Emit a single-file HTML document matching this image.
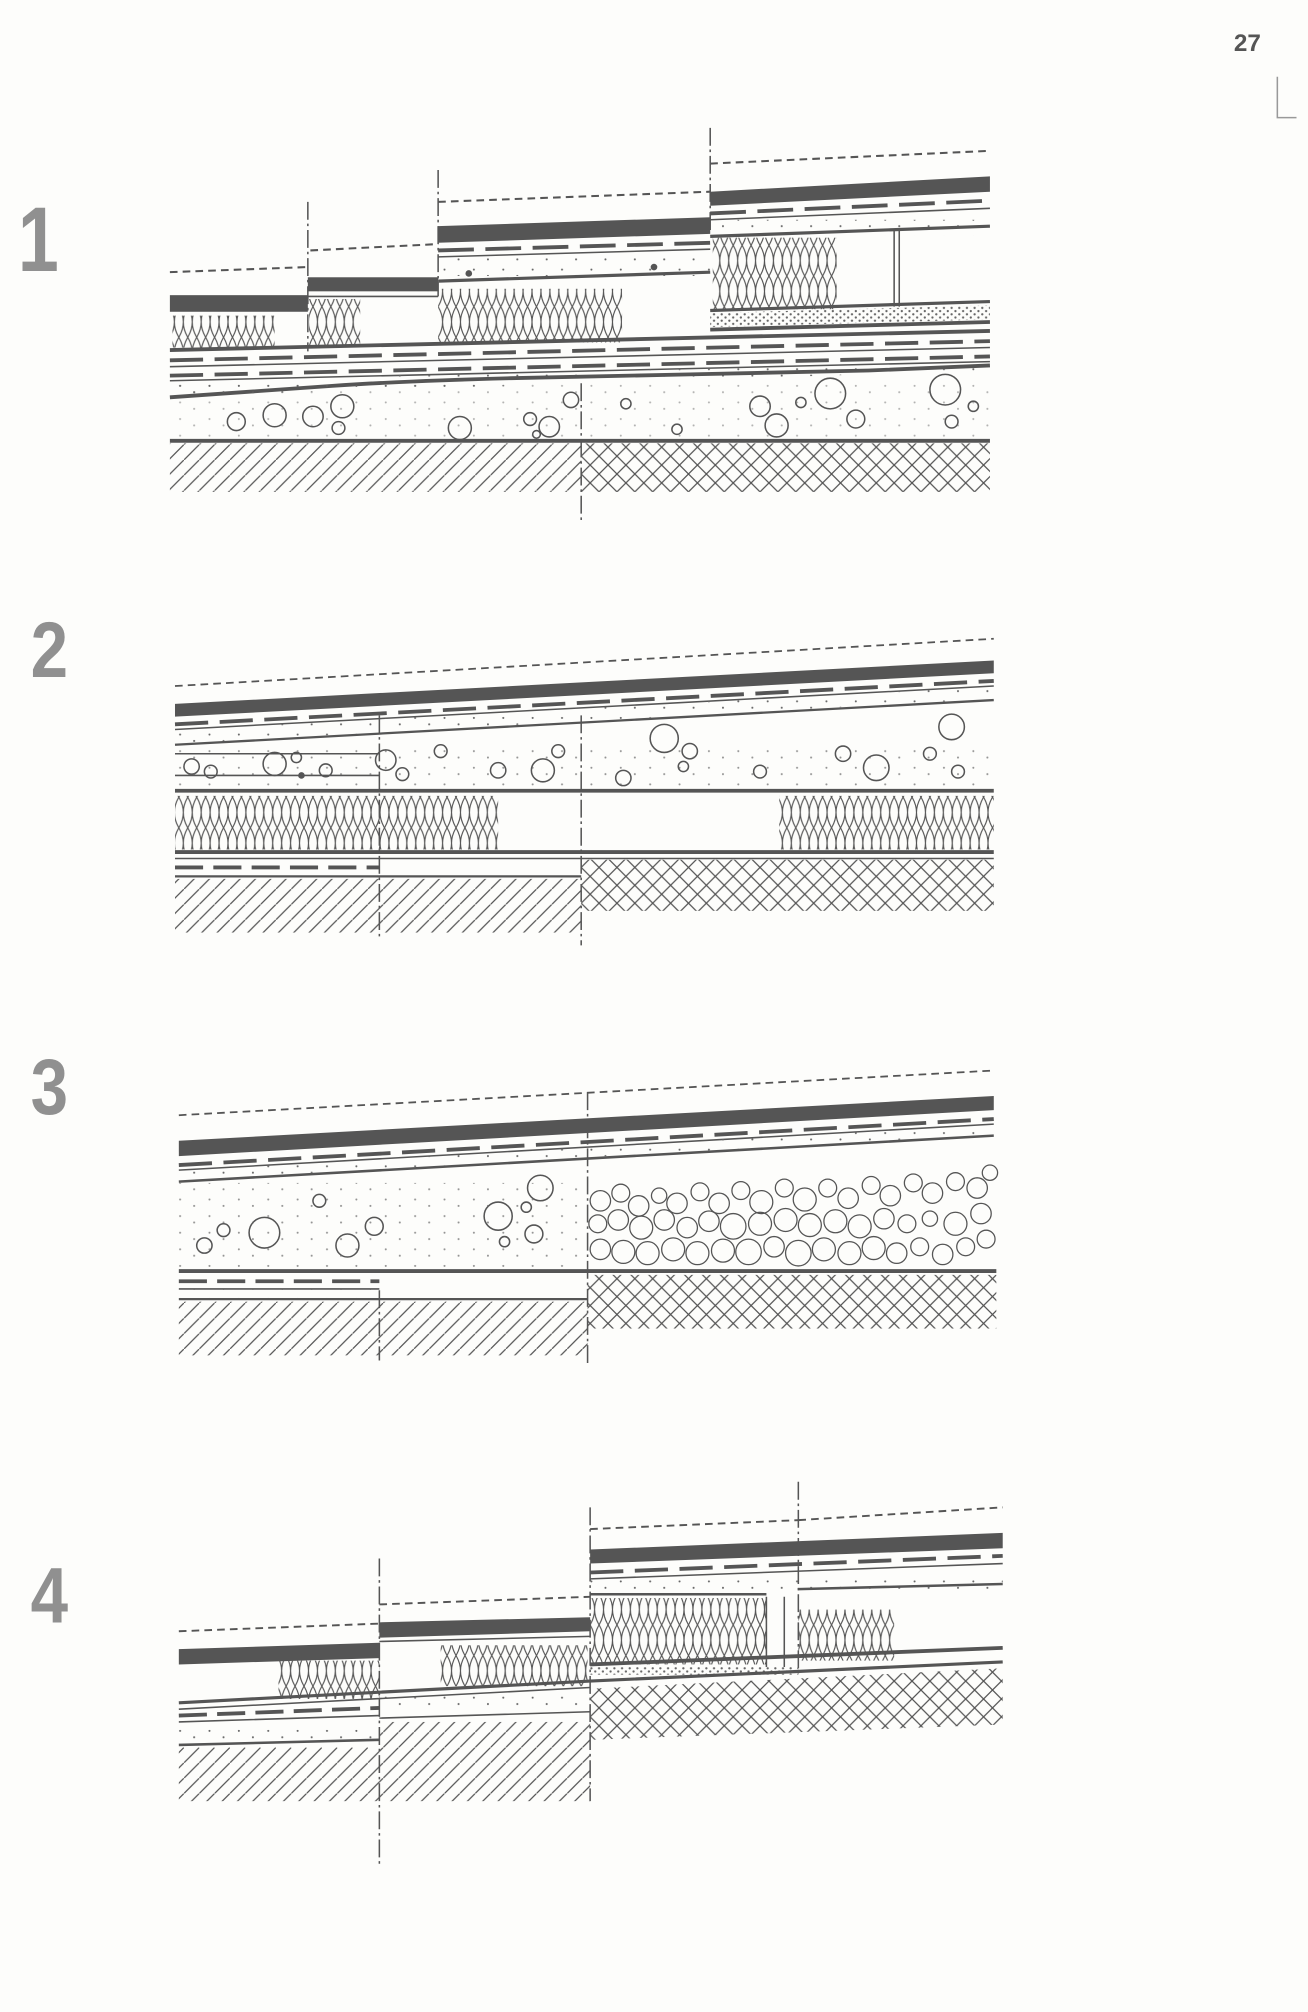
<!DOCTYPE html>
<html><head><meta charset="utf-8"><style>
html,body{margin:0;padding:0;background:#fdfdfb;}
svg{display:block;}
</style></head><body>
<svg width="1308" height="2012" viewBox="0 0 1024 1575" xmlns="http://www.w3.org/2000/svg">
<defs>
<pattern id="diag" width="12" height="12" patternUnits="userSpaceOnUse"><path d="M-1,13 L13,-1" stroke="#555" stroke-width="1"/></pattern>
<pattern id="cross" width="14" height="14" patternUnits="userSpaceOnUse"><path d="M0,14 L14,0 M0,0 L14,14" stroke="#555" stroke-width="1"/></pattern>
<pattern id="zig" width="7" height="24" patternUnits="userSpaceOnUse"><path d="M0,0 Q7,12 0,24 M7,0 Q0,12 7,24" stroke="#555" stroke-width="0.9" fill="none"/></pattern>
<pattern id="sand" width="23" height="13" patternUnits="userSpaceOnUse"><circle cx="3" cy="3" r="0.8" fill="#666"/><circle cx="14" cy="8" r="0.8" fill="#666"/></pattern>
<pattern id="dsand" width="6" height="5" patternUnits="userSpaceOnUse"><circle cx="1" cy="1" r="0.9" fill="#666"/><circle cx="4" cy="3.5" r="0.9" fill="#666"/></pattern>
</defs>
<g fill="none" stroke="#555" stroke-width="1.2">

<text x="966" y="40" font-family="Liberation Sans, sans-serif" font-size="19" font-weight="bold" fill="#555" stroke="none">27</text>
<path d="M1000,60 L1000,92 L1015,92" stroke="#999"/>

<g font-family="Liberation Sans, sans-serif" font-weight="bold" fill="#909090" stroke="none">
<text x="14" y="212" font-size="72" transform="translate(14 0) scale(0.8 1) translate(-14 0)">1</text>
<text x="24" y="530" font-size="62" transform="translate(24 0) scale(0.85 1) translate(-24 0)">2</text>
<text x="24" y="872" font-size="62" transform="translate(24 0) scale(0.85 1) translate(-24 0)">3</text>
<text x="24" y="1270" font-size="62" transform="translate(24 0) scale(0.85 1) translate(-24 0)">4</text>
</g>

<!-- ===== PANEL 1 ===== -->
<g stroke-dasharray="14 3 2 3">
<path d="M241,158 V275 M343,133 V232 M556,100 V180 M455,300 V408"/>
</g>
<g stroke-dasharray="6 4" stroke-width="1.6">
<path d="M133,213 L241,209 M243,196 L343,191 M343,158 L556,150 M556,128 L775,118"/>
</g>
<rect x="133" y="231" width="108" height="13" fill="#555" stroke="none"/>
<rect x="135" y="247" width="80" height="25" fill="url(#zig)" stroke="none"/>
<rect x="241" y="217" width="102" height="11" fill="#555" stroke="none"/>
<path d="M241,232 H343"/>
<rect x="242" y="234" width="40" height="36" fill="url(#zig)" stroke="none"/>
<polygon points="343,177 556,170 556,183 343,190" fill="#555" stroke="none"/>
<path d="M343,196 L556,190" stroke-width="3" stroke-dasharray="28 9"/>
<path d="M343,201 L556,195"/>
<rect x="343" y="202" width="213" height="14" fill="url(#sand)" stroke="none"/>
<circle cx="367" cy="214" r="2" fill="#555"/><circle cx="512" cy="209" r="2" fill="#555"/>
<path d="M343,220 L556,213" stroke-width="2.5"/>
<rect x="343" y="226" width="144" height="42" fill="url(#zig)" stroke="none"/>
<polygon points="556,150 775,138 775,150 556,161" fill="#555" stroke="none"/>
<path d="M556,167 L775,157" stroke-width="3" stroke-dasharray="28 9"/>
<path d="M556,172 L775,163"/>
<rect x="556" y="172" width="219" height="12" fill="url(#sand)" stroke="none"/>
<path d="M556,185 L775,177" stroke-width="2.5"/>
<rect x="558" y="186" width="97" height="56" fill="url(#zig)" stroke="none"/>
<path d="M700,180 V240 M704,180 V240"/>
<path d="M556,243 L775,236" stroke-width="2.5"/>
<polygon points="556,245 775,239 775,250 556,256" fill="url(#dsand)" stroke="none"/>
<path d="M556,258 L775,252" stroke-width="3"/>
<path d="M133,274 L775,259" stroke-width="3"/>
<path d="M133,282 L775,267" stroke-width="3" stroke-dasharray="26 9"/>
<path d="M133,287 L775,272"/>
<path d="M133,294 L775,279" stroke-width="3" stroke-dasharray="26 9"/>
<path d="M133,298 L775,283"/>
<polygon points="133,298 775,283 775,290 133,310" fill="url(#sand)" stroke="none"/>
<path d="M133,311 Q200,306 260,302 T400,296 T540,293 T680,290 L775,286" stroke-width="3"/>
<g>
<circle cx="185" cy="330" r="7"/><circle cx="215" cy="325" r="9"/><circle cx="245" cy="326" r="8"/><circle cx="268" cy="318" r="9"/><circle cx="265" cy="335" r="5"/>
<circle cx="360" cy="335" r="9"/><circle cx="415" cy="328" r="5"/><circle cx="430" cy="334" r="8"/><circle cx="447" cy="313" r="6"/><circle cx="420" cy="340" r="3"/>
<circle cx="490" cy="316" r="4"/><circle cx="530" cy="336" r="4"/><circle cx="595" cy="318" r="8"/><circle cx="608" cy="333" r="9"/><circle cx="627" cy="315" r="4"/>
<circle cx="650" cy="308" r="12"/><circle cx="670" cy="328" r="7"/><circle cx="740" cy="305" r="12"/><circle cx="745" cy="330" r="5"/><circle cx="762" cy="318" r="4"/>
</g>
<rect x="133" y="298" width="642" height="47" fill="url(#sand)" stroke="none" opacity="0.5"/>
<path d="M133,345 H775" stroke-width="3"/>
<rect x="133" y="347" width="322" height="38" fill="url(#diag)" stroke="none"/>
<rect x="455" y="347" width="320" height="38" fill="url(#cross)" stroke="none"/>

<!-- ===== PANEL 2 ===== -->
<path d="M297,560 V735 M455,560 V740" stroke-dasharray="14 3 2 3"/>
<path d="M137,537 L778,500" stroke-dasharray="6 4" stroke-width="1.4"/>
<polygon points="137,551 778,517 778,527 137,561" fill="#555" stroke="none"/>
<path d="M137,567 L778,533" stroke-width="3" stroke-dasharray="26 9"/>
<path d="M137,571 L778,537"/>
<polygon points="137,571 778,537 778,547 137,582" fill="url(#sand)" stroke="none"/>
<path d="M137,583 L778,548" stroke-width="1.8"/>
<path d="M137,590 H297 M137,607 H297"/>
<g>
<circle cx="150" cy="600" r="6"/><circle cx="165" cy="604" r="5"/><circle cx="215" cy="598" r="9"/><circle cx="232" cy="593" r="4"/><circle cx="255" cy="603" r="5"/>
<circle cx="302" cy="595" r="8"/><circle cx="315" cy="606" r="5"/><circle cx="345" cy="588" r="5"/><circle cx="390" cy="603" r="6"/><circle cx="425" cy="603" r="9"/>
<circle cx="437" cy="588" r="5"/><circle cx="488" cy="609" r="6"/><circle cx="520" cy="578" r="11"/><circle cx="540" cy="588" r="6"/><circle cx="535" cy="600" r="4"/>
<circle cx="595" cy="604" r="5"/><circle cx="660" cy="590" r="6"/><circle cx="686" cy="601" r="10"/><circle cx="728" cy="590" r="5"/><circle cx="745" cy="569" r="10"/><circle cx="750" cy="604" r="5"/><circle cx="236" cy="607" r="2" fill="#555"/>
</g>
<rect x="137" y="585" width="641" height="32" fill="url(#sand)" stroke="none" opacity="0.7"/>
<path d="M137,619 H778" stroke-width="3"/>
<rect x="137" y="623" width="253" height="42" fill="url(#zig)" stroke="none"/>
<rect x="610" y="623" width="168" height="42" fill="url(#zig)" stroke="none"/>
<path d="M137,667 H778" stroke-width="3"/>
<path d="M137,672 H778"/>
<path d="M137,679 H297" stroke-width="3" stroke-dasharray="22 8"/>
<path d="M137,686 H455" stroke-width="1.8"/>
<rect x="137" y="688" width="318" height="42" fill="url(#diag)" stroke="none"/>
<rect x="455" y="673" width="323" height="40" fill="url(#cross)" stroke="none"/>

<!-- ===== PANEL 3 ===== -->
<path d="M297,1010 V1065 M460,855 V1070" stroke-dasharray="14 3 2 3"/>
<path d="M140,873 L778,838" stroke-dasharray="6 4" stroke-width="1.4"/>
<polygon points="140,893 778,858 778,869 140,905" fill="#555" stroke="none"/>
<path d="M140,912 L778,876" stroke-width="3" stroke-dasharray="26 9"/>
<path d="M140,916 L778,880"/>
<polygon points="140,916 778,880 778,888 140,924" fill="url(#sand)" stroke="none"/>
<path d="M140,925 L778,889" stroke-width="2"/>
<g>
<circle cx="160" cy="975" r="6"/><circle cx="175" cy="963" r="5"/><circle cx="207" cy="965" r="12"/><circle cx="250" cy="940" r="5"/>
<circle cx="272" cy="975" r="9"/><circle cx="293" cy="960" r="7"/><circle cx="390" cy="952" r="11"/><circle cx="395" cy="972" r="4"/><circle cx="418" cy="966" r="7"/><circle cx="423" cy="930" r="10"/><circle cx="412" cy="945" r="4"/>
</g>
<rect x="140" y="926" width="320" height="68" fill="url(#sand)" stroke="none" opacity="0.7"/>
<g stroke-width="1">
<circle cx="470" cy="940" r="8"/><circle cx="486" cy="934" r="7"/><circle cx="500" cy="944" r="8"/><circle cx="516" cy="936" r="6"/><circle cx="530" cy="942" r="8"/><circle cx="548" cy="933" r="7"/><circle cx="563" cy="942" r="8"/><circle cx="580" cy="932" r="7"/><circle cx="596" cy="941" r="9"/><circle cx="614" cy="930" r="7"/><circle cx="630" cy="939" r="9"/><circle cx="648" cy="930" r="7"/><circle cx="664" cy="938" r="8"/><circle cx="682" cy="928" r="7"/><circle cx="697" cy="936" r="8"/><circle cx="715" cy="926" r="7"/><circle cx="730" cy="934" r="8"/><circle cx="748" cy="925" r="7"/><circle cx="765" cy="930" r="8"/><circle cx="775" cy="918" r="6"/>
<circle cx="468" cy="958" r="7"/><circle cx="484" cy="955" r="8"/><circle cx="502" cy="961" r="9"/><circle cx="520" cy="955" r="8"/><circle cx="538" cy="961" r="8"/><circle cx="555" cy="956" r="8"/><circle cx="574" cy="960" r="10"/><circle cx="595" cy="958" r="9"/><circle cx="615" cy="955" r="9"/><circle cx="634" cy="959" r="9"/><circle cx="654" cy="956" r="9"/><circle cx="673" cy="960" r="9"/><circle cx="692" cy="954" r="8"/><circle cx="710" cy="958" r="7"/><circle cx="728" cy="954" r="6"/><circle cx="748" cy="958" r="9"/><circle cx="768" cy="950" r="8"/>
<circle cx="470" cy="978" r="8"/><circle cx="488" cy="980" r="9"/><circle cx="507" cy="981" r="9"/><circle cx="527" cy="978" r="9"/><circle cx="546" cy="981" r="9"/><circle cx="566" cy="979" r="9"/><circle cx="586" cy="980" r="10"/><circle cx="606" cy="976" r="8"/><circle cx="625" cy="981" r="10"/><circle cx="645" cy="978" r="9"/><circle cx="665" cy="981" r="9"/><circle cx="684" cy="977" r="9"/><circle cx="702" cy="981" r="8"/><circle cx="720" cy="976" r="7"/><circle cx="738" cy="982" r="8"/><circle cx="756" cy="976" r="7"/><circle cx="772" cy="970" r="7"/>
</g>
<path d="M140,995 H780" stroke-width="3"/>
<path d="M140,1003 H297" stroke-width="3" stroke-dasharray="22 8"/>
<path d="M140,1009 H297"/>
<rect x="140" y="1009" width="157" height="8" fill="url(#sand)" stroke="none"/>
<path d="M140,1017 H460" stroke-width="1.8"/>
<rect x="140" y="1019" width="320" height="42" fill="url(#diag)" stroke="none"/>
<rect x="460" y="998" width="320" height="42" fill="url(#cross)" stroke="none"/>

<!-- ===== PANEL 4 ===== -->
<path d="M297,1220 V1460 M462,1180 V1410 M625,1160 V1310" stroke-dasharray="14 3 2 3"/>
<g stroke-dasharray="6 4" stroke-width="1.5">
<path d="M140,1277 L297,1271 M297,1256 L462,1250 M462,1197 L625,1190 M625,1190 L785,1180"/>
</g>
<polygon points="140,1291 297,1286 297,1298 140,1303" fill="#555" stroke="none"/>
<polygon points="297,1270 462,1266 462,1277 297,1282" fill="#555" stroke="none"/>
<path d="M297,1285 L462,1281"/>
<rect x="218" y="1300" width="79" height="30" fill="url(#zig)" stroke="none"/>
<rect x="345" y="1288" width="115" height="32" fill="url(#zig)" stroke="none"/>
<polygon points="462,1213 785,1200 785,1212 462,1224" fill="#555" stroke="none"/>
<path d="M462,1231 L785,1218" stroke-width="3" stroke-dasharray="26 9"/>
<path d="M462,1236 L785,1224"/>
<rect x="462" y="1236" width="323" height="11" fill="url(#sand)" stroke="none"/>
<path d="M462,1248 H600 M625,1244 L785,1240" stroke-width="2"/>
<rect x="462" y="1251" width="138" height="52" fill="url(#zig)" stroke="none"/>
<path d="M600,1250 V1305 M614,1250 V1305"/>
<rect x="625" y="1260" width="75" height="40" fill="url(#zig)" stroke="none"/>
<rect x="462" y="1305" width="163" height="6" fill="url(#dsand)" stroke="none"/>
<path d="M462,1303 L785,1290" stroke-width="3"/>
<path d="M140,1333 L462,1316 L785,1301" stroke-width="2.5"/>
<path d="M140,1338 L462,1321"/>
<path d="M140,1343 L297,1337" stroke-width="3" stroke-dasharray="22 8"/>
<path d="M140,1348 L297,1343 M297,1345 L462,1340"/>
<rect x="140" y="1349" width="157" height="14" fill="url(#sand)" stroke="none"/>
<rect x="297" y="1327" width="165" height="12" fill="url(#sand)" stroke="none"/>
<path d="M140,1366 L297,1362" stroke-width="2"/>
<rect x="140" y="1368" width="157" height="42" fill="url(#diag)" stroke="none"/>
<rect x="297" y="1348" width="165" height="62" fill="url(#diag)" stroke="none"/>
<polygon points="462,1322 785,1306 785,1350 462,1362" fill="url(#cross)" stroke="none"/>

</g>
</svg>
</body></html>
